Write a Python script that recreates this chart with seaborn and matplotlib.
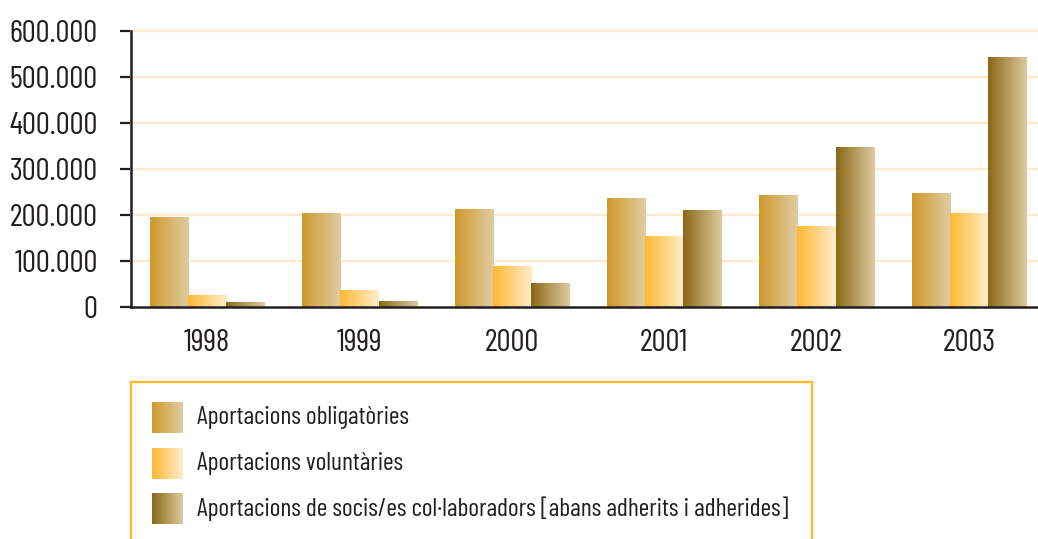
import numpy as np
import pandas as pd
import matplotlib
matplotlib.use("Agg")
import matplotlib.pyplot as plt
import seaborn as sns

# ---- data ----
years          = ['1998', '1999', '2000', '2001', '2002', '2003']
obligatories   = [193500, 204000, 213000, 235000, 243000, 246000]
voluntaries    = [26000, 35000, 87000, 154000, 176000, 204000]
col_laboradors = [8700, 11000, 52000, 209000, 346000, 543000]

series_names = ['Aportacions obligatòries',
                'Aportacions voluntàries',
                'Aportacions de socis/es col·laboradors [abans adherits i adherides]']
y_ticks  = [0, 100000, 200000, 300000, 400000, 500000, 600000]
y_labels = ['0', '100.000', '200.000', '300.000', '400.000', '500.000', '600.000']

# gradient (left colour, right colour) per series
gradients = [('#CF9A2C', '#E0CCA2'),
             ('#FDB933', '#FFEDCB'),
             ('#8A6816', '#DECAA0')]

df = pd.DataFrame({
    'any': years * 3,
    'valor': obligatories + voluntaries + col_laboradors,
    'serie': [series_names[0]] * 6 + [series_names[1]] * 6 + [series_names[2]] * 6,
})

sns.set_style('white')
plt.rcParams['font.family'] = ['Barlow Condensed', 'PT Sans Narrow', 'DejaVu Sans']
TXT = '#231F20'

W, H = 1038, 539
fig = plt.figure(figsize=(W / 100, H / 100), dpi=100)
ax = fig.add_axes([131 / W, (H - 307) / H, 914 / W, 276 / H])

sns.barplot(data=df, x='any', y='valor', hue='serie', hue_order=series_names,
            palette=[g[0] for g in gradients], width=0.75, saturation=1,
            legend=False, ax=ax, zorder=3)


def grad_img(c0, c1, n=128):
    a = np.array(matplotlib.colors.to_rgb(c0))
    b = np.array(matplotlib.colors.to_rgb(c1))
    t = np.linspace(0, 1, n)[None, :, None]
    return (1 - t) * a + t * b


# paint a left->right gradient over every bar
for cont, (c0, c1) in zip(ax.containers, gradients):
    img = grad_img(c0, c1)
    for bar in cont:
        x, y = bar.get_x(), bar.get_y()
        w, h = bar.get_width(), bar.get_height()
        ax.imshow(img, extent=[x, x + w, y, y + h], aspect='auto',
                  interpolation='bilinear', zorder=4)

ax.set_xlim(-0.5, 5.5)
ax.set_ylim(0, 600000)
ax.set_yticks(y_ticks)
ax.set_yticklabels(y_labels)
ax.set_xlabel('')
ax.set_ylabel('')

for v in y_ticks[1:]:
    ax.axhline(v, color='#FFEBCB', lw=1.6, zorder=1, clip_on=False)

ax.set_xticks(np.arange(-0.5, 6.0, 1.0), minor=True)
ax.tick_params(axis='x', which='major', length=0, pad=16, labelsize=22.5, labelcolor=TXT)
ax.tick_params(axis='x', which='minor', length=11, width=1.6, color=TXT, direction='out')
ax.tick_params(axis='y', length=8, width=1.6, color=TXT, pad=16, labelsize=22.5,
               labelcolor=TXT, left=True)

for s in ['top', 'right']:
    ax.spines[s].set_visible(False)
for s in ['left', 'bottom']:
    ax.spines[s].set_color(TXT)
    ax.spines[s].set_linewidth(1.8)
    ax.spines[s].set_zorder(5)

# ---- legend panel (bottom edge falls outside the picture) ----
lax = fig.add_axes([131 / W, (H - 548) / H, 681 / W, 166 / H])
lax.set_xticks([])
lax.set_yticks([])
for s in ['top', 'left', 'right']:
    lax.spines[s].set_color('#FDB827')
    lax.spines[s].set_linewidth(1.6)
lax.spines['bottom'].set_visible(False)

for i, (name, (c0, c1)) in enumerate(zip(series_names, gradients)):
    top = 20 + i * 45.7
    lax.imshow(grad_img(c0, c1), extent=[21, 52, top + 31, top], aspect='auto',
               interpolation='bilinear')
    lax.text(66, top + 15.5, name, fontsize=18.5, color=TXT, va='center', ha='left')
lax.set_xlim(0, 681)
lax.set_ylim(166, 0)

fig.savefig('out.png', dpi=100)
